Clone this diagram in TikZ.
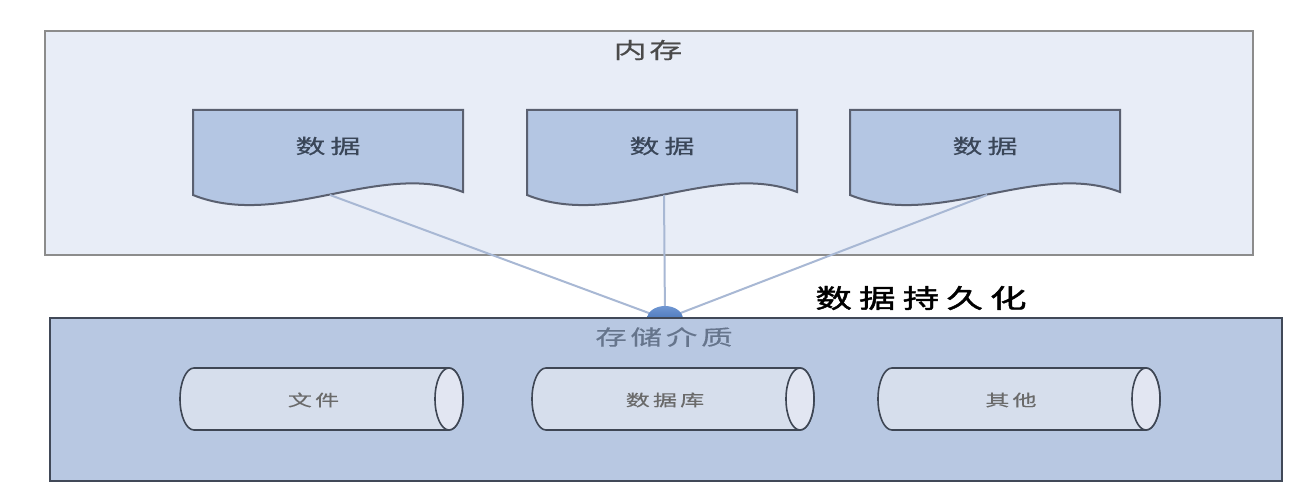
\documentclass[tikz,border=0pt]{standalone}
\usepackage{fontspec}
\usetikzlibrary{shapes.geometric}
\newfontfamily\cjk[FakeStretch=1.5,FakeBold=0.4]{Noto Sans CJK SC}
\newfontfamily\cjkbold[FakeStretch=1.4,FakeBold=1.8]{Noto Sans CJK SC}
\definecolor{topfill}{HTML}{E8EDF7}
\definecolor{topdraw}{HTML}{8C8C8C}
\definecolor{docfill}{HTML}{B4C6E3}
\definecolor{docdraw}{HTML}{5A6070}
\definecolor{botfill}{HTML}{B8C8E2}
\definecolor{botdraw}{HTML}{414958}
\definecolor{linkcol}{HTML}{A8B8D4}
\definecolor{hubblue}{HTML}{2F5FA8}
\definecolor{hublight}{HTML}{6F96D2}
\definecolor{cylfill}{HTML}{D6DEEC}
\definecolor{cylend}{HTML}{E2E6F2}
\definecolor{cyldraw}{HTML}{3E4654}
\definecolor{txtgray}{HTML}{4A4A4A}
\definecolor{txtdoc}{HTML}{3A4658}
\definecolor{txtbot}{HTML}{66758C}
\definecolor{txtcyl}{HTML}{6A6A6A}
\tikzset{
  topbox/.style={fill=topfill,draw=topdraw,line width=2.5pt},
  botbox/.style={fill=botfill,draw=botdraw,line width=2pt},
  docshape/.style={fill=docfill,draw=docdraw,line width=2pt},
  link/.style={draw=linkcol,line width=2pt},
  cylbody/.style={fill=cylfill,draw=cyldraw,line width=1.6pt},
  cylcap/.style={fill=cylend,draw=cyldraw,line width=1.6pt},
  lbl/.style={inner sep=0pt,anchor=center},
}
\newcommand\mydoc[3]{%
  \draw[docshape] (#2,110) -- (#2+270,110) -- (#2+270,192)
    .. controls (#2+187,160) and (#2+87,230) .. (#2,195) -- cycle;
  \coordinate (#1b) at (#2+137,195);
  \node[lbl,text=txtdoc] (#1) at (#2+135,146) {\fontsize{20}{20}\cjk\addfontfeatures{LetterSpace=25}#3};
}
\newcommand\mycyl[4]{%
  \draw[cylbody] (#2,368) -- (#3,368) arc[start angle=270,end angle=450,x radius=14,y radius=31]
    -- (#2,430) arc[start angle=90,end angle=270,x radius=14,y radius=31] -- cycle;
  \draw[cylcap] (#3,399) ellipse[x radius=14,y radius=31];
  \node[lbl,text=txtcyl] (#1) at ({(#2+#3)/2-8},400) {\fontsize{16}{16}\cjk\addfontfeatures{LetterSpace=20}#4};
}
\begin{document}
\begin{tikzpicture}[x=1pt,y=-1pt]
\useasboundingbox (0,0) rectangle (1307,486);
\fill[white] (0,0) rectangle (1307,486);
% memory box
\draw[topbox] (45,31) rectangle (1253,255);
\node[lbl,text=txtgray] (mem) at (648,50) {\fontsize{22}{22}\cjk\addfontfeatures{LetterSpace=12}内存};
% hub position
\coordinate (hubc) at (665,319);
% documents
\mydoc{da}{193}{数据}
\mydoc{db}{527}{数据}
\mydoc{dc}{850}{数据}
% links
\draw[link] (dab) -- (hubc);
\draw[link] (dbb) -- (hubc);
\draw[link] (dcb) -- (hubc);
% hub
\node[ellipse,top color=hublight,bottom color=hubblue,minimum width=36pt,minimum height=26pt,inner sep=0pt] (hub) at (hubc) {};
% label
\node[lbl,text=black] (persist) at (921,298) {\fontsize{26}{26}\cjkbold\addfontfeatures{LetterSpace=28}数据持久化};
% storage box
\draw[botbox] (50,318) rectangle (1282,481);
\node[lbl,text=txtbot] (store) at (664,337) {\fontsize{21}{21}\cjk\addfontfeatures{LetterSpace=18}存储介质};
% cylinders
\mycyl{ca}{194}{449}{文件}
\mycyl{cb}{546}{800}{数据库}
\mycyl{cc}{892}{1146}{其他}
\end{tikzpicture}
\end{document}
